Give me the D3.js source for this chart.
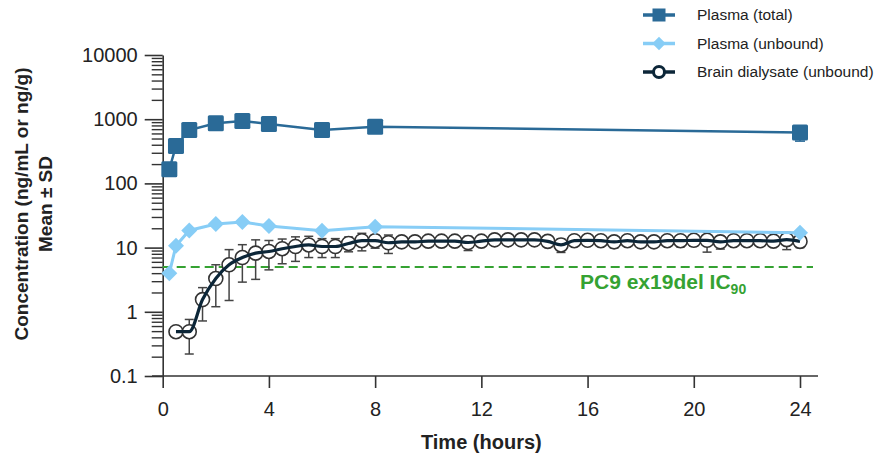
<!DOCTYPE html>
<html>
<head>
<meta charset="utf-8">
<script src="https://cdn.jsdelivr.net/npm/d3@7"></script>
<style>
  body { margin: 0; background: #fff; }
  svg { display: block; font-family: "Liberation Sans", Arial, sans-serif; }
</style>
</head>
<body>
<div id="chart"></div>
<script>
// values
const plasmaTimes = [0.25, 0.5, 1, 2, 3, 4, 6, 8, 24];
const plasmaTotal = [166, 383, 679, 864, 937, 842, 679, 764, 621];
const plasmaTotalSD = [0, 0, 0, 0, 0, 0, 0, 0, 165];
const plasmaUnbound = [4.0, 10.7, 18.5, 23.3, 25.1, 21.7, 18.3, 21.2, 17.0];

const brainTimes = [0.5, 1, 1.5, 2, 2.5, 3, 3.5, 4, 4.5, 5, 5.5, 6, 6.5, 7, 7.5, 8,
    8.5, 9, 9.5, 10, 10.5, 11, 11.5, 12, 12.5, 13, 13.5, 14, 14.5, 15, 15.5, 16,
    16.5, 17, 17.5, 18, 18.5, 19, 19.5, 20, 20.5, 21, 21.5, 22, 22.5, 23, 23.5, 24];
const brainDialysate = [0.49, 0.49, 1.55, 3.3, 5.4, 7.0, 8.2, 8.7, 9.6, 10.4, 11.0, 10.4, 10.4, 11.6, 12.8, 12.8,
    11.9, 12.3, 12.3, 12.6, 12.6, 12.6, 12.0, 12.6, 13.2, 13.2, 13.2, 13.2, 12.5, 11.0, 12.8, 13.0,
    12.8, 12.3, 12.8, 12.3, 12.3, 12.8, 12.8, 13.0, 13.0, 12.3, 12.8, 12.8, 12.8, 12.6, 13.3, 12.5];
const brainSD = [0, 0.27, 0.83, 2.1, 3.9, 4.1, 5.0, 4.2, 4.0, 4.3, 4.0, 3.4, 3.4, 3.0, 3.9, 3.0,
    3.8, 1.0, 1.0, 1.0, 1.2, 1.0, 3.0, 1.0, 1.0, 1.0, 1.0, 1.0, 1.0, 2.6, 1.0, 1.0,
    1.0, 2.4, 1.0, 2.2, 1.0, 1.0, 2.5, 2.5, 4.5, 2.8, 1.0, 1.0, 1.0, 1.0, 4.0, 2.5];

const ic90 = 5;
const xTicks = [0, 4, 8, 12, 16, 20, 24];
const yTicks = [0.1, 1, 10, 100, 1000, 10000];
const yTickLabels = ["0.1", "1", "10", "100", "1000", "10000"];
const legendLabels = ["Plasma (total)", "Plasma (unbound)", "Brain dialysate (unbound)"];

const colTotal = "#2a6a97";
const colUnbound = "#87cdf6";
const colBrain = "#0c2638";
const colGreen = "#35a232";
const colAxis = "#333";

const svg = d3.select("#chart").append("svg")
    .attr("width", 880)
    .attr("height", 466);

const x = d3.scaleLinear().domain([0, 24]).range([162.7, 800]);
const y = d3.scaleLog().domain([0.1, 10000]).range([376, 55]);

// minor ticks 2..9 in every decade
const minorTicks = [];
yTicks.slice(0, -1).forEach(d => {
    for (let k = 2; k <= 9; k++) minorTicks.push(+(d * k).toPrecision(3));
});

// y axis
svg.append("g")
    .attr("transform", "translate(" + x(0) + ",0)")
    .call(d3.axisLeft(y).tickValues(minorTicks).tickSize(11).tickFormat(""))
    .call(g => g.select(".domain").remove())
    .call(g => g.selectAll("line").attr("stroke", colAxis).attr("stroke-width", 1.4));

svg.append("g")
    .attr("transform", "translate(" + x(0) + ",0)")
    .call(d3.axisLeft(y).tickValues(yTicks).tickSize(18).tickSizeOuter(0).tickPadding(7)
        .tickFormat((d, i) => yTickLabels[i]))
    .call(g => g.select(".domain").attr("stroke", colAxis).attr("stroke-width", 1.6))
    .call(g => g.selectAll("line").attr("stroke", colAxis).attr("stroke-width", 1.6))
    .call(g => g.selectAll("text").attr("font-size", 20).attr("fill", "#222")
        .attr("font-family", "Liberation Sans, Arial, sans-serif"));

// x axis
svg.append("g")
    .attr("transform", "translate(0,376)")
    .call(d3.axisBottom(x).tickValues(xTicks).tickSize(12).tickSizeOuter(0).tickPadding(14))
    .call(g => g.select(".domain").remove())
    .call(g => g.selectAll("line").attr("stroke", colAxis).attr("stroke-width", 1.6))
    .call(g => g.selectAll("text").attr("font-size", 20).attr("fill", "#222")
        .attr("font-family", "Liberation Sans, Arial, sans-serif"));

svg.append("line")
    .attr("x1", 152).attr("x2", 818)
    .attr("y1", 376).attr("y2", 376)
    .attr("stroke", colAxis).attr("stroke-width", 1.6);

// axis titles
svg.append("text")
    .attr("x", x(12)).attr("y", 449)
    .attr("text-anchor", "middle")
    .attr("font-size", 20).attr("font-weight", "bold").attr("fill", "#222")
    .text("Time (hours)");

const yTitle = svg.append("text")
    .attr("transform", "translate(0,204) rotate(-90)")
    .attr("text-anchor", "middle")
    .attr("font-size", 19).attr("font-weight", "bold").attr("fill", "#222");
yTitle.append("tspan").attr("x", 0).attr("y", 28).text("Concentration (ng/mL or ng/g)");
yTitle.append("tspan").attr("x", 0).attr("y", 52).text("Mean ± SD");

// IC90 reference line
svg.append("line")
    .attr("x1", x(0)).attr("x2", 813)
    .attr("y1", y(ic90)).attr("y2", y(ic90))
    .attr("stroke", colGreen).attr("stroke-width", 2)
    .attr("stroke-dasharray", "9,5");

const icLabel = svg.append("text")
    .attr("x", 580).attr("y", 289)
    .attr("font-size", 21).attr("font-weight", "bold").attr("fill", colGreen);
icLabel.append("tspan").text("PC9 ex19del IC");
icLabel.append("tspan").attr("font-size", 14).attr("dy", 5).text("90");

// brain dialysate: error bars, circles, spline
const brain = brainTimes.map((t, i) => ({t: t, v: brainDialysate[i], sd: brainSD[i]}));
const eb = svg.append("g").attr("stroke", "#444").attr("stroke-width", 1.5);
brain.filter(d => d.sd > 0).forEach(d => {
    const lo = Math.max(d.v - d.sd, 0.1);
    const hi = d.v + d.sd;
    eb.append("line").attr("x1", x(d.t)).attr("x2", x(d.t)).attr("y1", y(lo)).attr("y2", y(hi));
    eb.append("line").attr("x1", x(d.t) - 4.5).attr("x2", x(d.t) + 4.5).attr("y1", y(lo)).attr("y2", y(lo));
    eb.append("line").attr("x1", x(d.t) - 4.5).attr("x2", x(d.t) + 4.5).attr("y1", y(hi)).attr("y2", y(hi));
});

svg.append("g")
    .selectAll("circle")
    .data(brain)
    .join("circle")
    .attr("cx", d => x(d.t))
    .attr("cy", d => y(d.v))
    .attr("r", 7)
    .attr("fill", "#fff")
    .attr("stroke", "#333")
    .attr("stroke-width", 1.6);

svg.append("path")
    .datum(brain)
    .attr("fill", "none")
    .attr("stroke", colBrain)
    .attr("stroke-width", 3.2)
    .attr("d", d3.line().x(d => x(d.t)).y(d => y(d.v)).curve(d3.curveMonotoneX));

// plasma unbound
const unbound = plasmaTimes.map((t, i) => ({t: t, v: plasmaUnbound[i]}));
svg.append("path")
    .datum(unbound)
    .attr("fill", "none")
    .attr("stroke", colUnbound)
    .attr("stroke-width", 3)
    .attr("d", d3.line().x(d => x(d.t)).y(d => y(d.v)));

svg.append("g")
    .selectAll("path")
    .data(unbound)
    .join("path")
    .attr("transform", d => "translate(" + x(d.t) + "," + y(d.v) + ") rotate(45)")
    .attr("d", d3.symbol(d3.symbolSquare, 128)())
    .attr("fill", colUnbound);

// plasma total
const total = plasmaTimes.map((t, i) => ({t: t, v: plasmaTotal[i], sd: plasmaTotalSD[i]}));
total.filter(d => d.sd > 0).forEach(d => {
    const g = svg.append("g").attr("stroke", colTotal).attr("stroke-width", 1.6);
    g.append("line").attr("x1", x(d.t)).attr("x2", x(d.t)).attr("y1", y(d.v - d.sd)).attr("y2", y(d.v + d.sd));
    g.append("line").attr("x1", x(d.t) - 5).attr("x2", x(d.t) + 5).attr("y1", y(d.v - d.sd)).attr("y2", y(d.v - d.sd));
    g.append("line").attr("x1", x(d.t) - 5).attr("x2", x(d.t) + 5).attr("y1", y(d.v + d.sd)).attr("y2", y(d.v + d.sd));
});

svg.append("path")
    .datum(total)
    .attr("fill", "none")
    .attr("stroke", colTotal)
    .attr("stroke-width", 2.5)
    .attr("d", d3.line().x(d => x(d.t)).y(d => y(d.v)));

svg.append("g")
    .selectAll("rect")
    .data(total)
    .join("rect")
    .attr("x", d => x(d.t) - 8)
    .attr("y", d => y(d.v) - 8)
    .attr("width", 16).attr("height", 16)
    .attr("rx", 1.5)
    .attr("fill", colTotal);

// legend
const legend = svg.append("g").attr("transform", "translate(643,15)");
const rowGap = 28.5;
const legendColors = [colTotal, colUnbound, colBrain];
legendLabels.forEach((label, i) => {
    const row = legend.append("g").attr("transform", "translate(0," + i * rowGap + ")");
    row.append("line").attr("x1", 0).attr("x2", 32).attr("y1", 0).attr("y2", 0)
        .attr("stroke", legendColors[i]).attr("stroke-width", 3.5);
    if (i === 0) {
        row.append("rect").attr("x", 9.5).attr("y", -6.5).attr("width", 13).attr("height", 13).attr("fill", colTotal);
    } else if (i === 1) {
        row.append("path").attr("transform", "translate(16,0) rotate(45)")
            .attr("d", d3.symbol(d3.symbolSquare, 90)()).attr("fill", colUnbound);
    } else {
        row.append("circle").attr("cx", 16).attr("cy", 0).attr("r", 5.5)
            .attr("fill", "#fff").attr("stroke", colBrain).attr("stroke-width", 3);
    }
    row.append("text").attr("x", 54).attr("y", 0).attr("dy", "0.35em")
        .attr("font-size", 15.5).attr("fill", "#222").text(label);
});
</script>
</body>
</html>
